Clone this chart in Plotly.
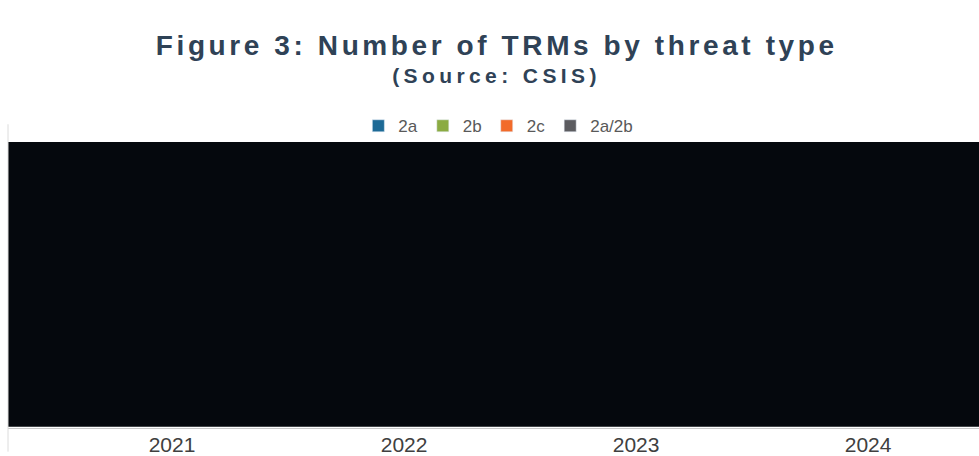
import plotly.graph_objects as go

# Data (bar values are redacted in the reference; unknown -> None)
years = ["2021", "2022", "2023", "2024"]
series_names = ["2a", "2b", "2c", "2a/2b"]
series_colors = ["#1d6a96", "#8bab42", "#f26b2a", "#5c5c60"]
values_2a = [None, None, None, None]
values_2b = [None, None, None, None]
values_2c = [None, None, None, None]
values_2a2b = [None, None, None, None]
all_values = [values_2a, values_2b, values_2c, values_2a2b]

fig = go.Figure()
for name, color, vals in zip(series_names, series_colors, all_values):
    fig.add_trace(go.Bar(x=years, y=vals, name=name, marker_color=color))

W, H = 979, 456
ml, mr, mt, mb = 8, 0, 142, 24
plot_h = H - mt - mb

fig.update_layout(
    width=W, height=H,
    margin=dict(l=ml, r=mr, t=mt, b=mb),
    paper_bgcolor="white", plot_bgcolor="white",
    barmode="group",
    showlegend=True,
    legend=dict(
        orientation="h", x=0.505, xanchor="center",
        y=1 + 16 / plot_h, yanchor="middle",
        font=dict(family="Liberation Sans, Arial", size=17, color="#595959"),
        itemwidth=30, bgcolor="rgba(0,0,0,0)",
    ),
    xaxis=dict(
        type="category", range=[-0.707, 3.478],
        showline=True, linecolor="#c8c8c8", linewidth=1,
        ticks="", showgrid=False, zeroline=False, ticklabelstandoff=-2,
        tickfont=dict(family="Liberation Sans, Arial", size=21, color="#404040"),
    ),
    yaxis=dict(visible=False, range=[0, 1], showgrid=False, zeroline=False),
    annotations=[
        dict(text="<b>Figure 3: Number of TRMs by threat type</b>",
             xref="paper", yref="paper", x=0.503, y=1 + 98 / plot_h,
             xanchor="center", yanchor="middle", showarrow=False,
             font=dict(family="Liberation Sans, Arial", size=28, color="#2f4256")),
        dict(text="<b>(Source: CSIS)</b>",
             xref="paper", yref="paper", x=0.503, y=1 + 67 / plot_h,
             xanchor="center", yanchor="middle", showarrow=False,
             font=dict(family="Liberation Sans, Arial", size=21, color="#2f4256")),
    ],
    shapes=[
        # redaction block over the plotting area
        dict(type="rect", xref="x domain", yref="y domain",
             x0=0, x1=1, y0=0.004, y1=1, layer="above",
             fillcolor="#05080d", line=dict(width=0)),
        # faint chart border on the left
        dict(type="line", xref="paper", yref="paper",
             x0=0, x1=0, y0=-mb / plot_h, y1=1 + 18 / plot_h,
             line=dict(color="#dcdcdc", width=1)),
    ],
)

# widen the title letter spacing as in the reference
post_js = """
var gd = document.getElementById('{plot_id}');
var texts = gd.querySelectorAll('.annotation-text');
texts.forEach(function(t, i) {
  t.style.letterSpacing = (i === 0 ? '3.6px' : '4.4px');
});
"""

fig.write_html("out.html", post_script=post_js)
